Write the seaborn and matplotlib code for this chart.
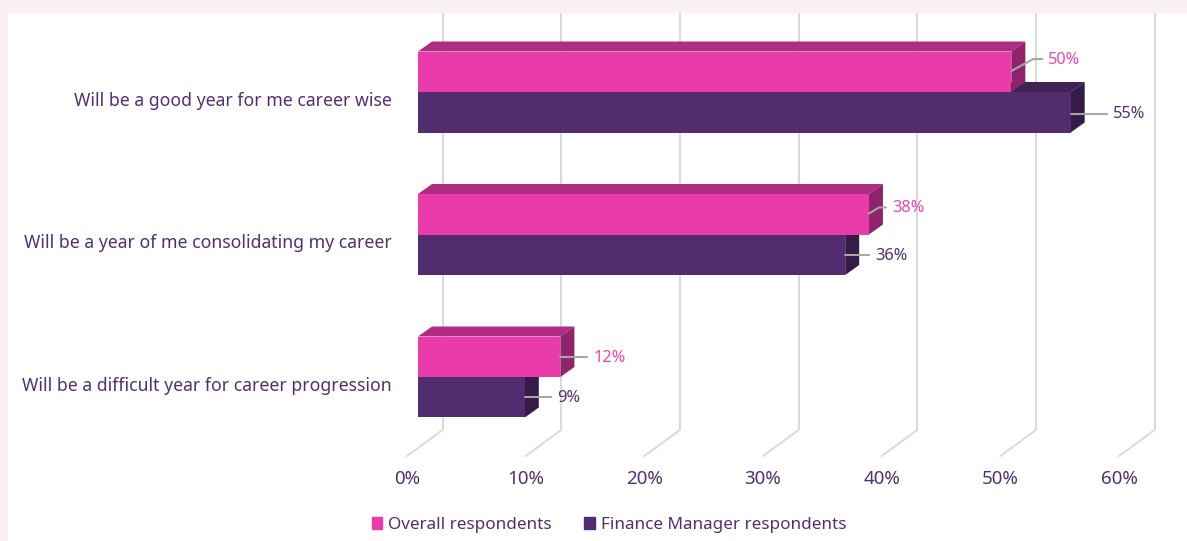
import matplotlib
matplotlib.use('Agg')
import matplotlib.pyplot as plt
import matplotlib.patches as mpatches
from matplotlib.transforms import ScaledTranslation
import pandas as pd
import seaborn as sns

# chart values
categories = ['Will be a good year for me career wise',
              'Will be a year of me consolidating my career',
              'Will be a difficult year for career progression']
overall = [50, 38, 12]
finance = [55, 36, 9]
series_names = ['Overall respondents', 'Finance Manager respondents']
x_ticks = [0, 10, 20, 30, 40, 50, 60]

# colours
PINK = '#EA3BAB'
PINK_TOP = '#AF2D82'
PINK_SIDE = '#90246C'
PINK_TEXT = '#EE45B2'
PURPLE = '#512C6E'
PURPLE_TOP = '#3E2354'
PURPLE_SIDE = '#341B48'
TEXT = '#52306F'
BAND = '#FAEFF4'
GRID = '#DADADA'
LEADER = '#A6A6A6'

W, H = 1187, 541
DPI = 100

# pixel layout of the plot box
X0, X60 = 418, 1130
TOP, BOTTOM = 13, 456
FIRST_ROW, ROW_STEP = 92, 142.5
DEPTH_X, DEPTH_Y = 14, 10
WALL_X, WALL_Y = 24.5, 26
FLOOR_X = 11

# leader lines per bar, pixels from the bar end: bend (dx, up) then end (dx, up)
overall_leaders = [((22, 12), (31, 12)), ((10, 6), (17, 6)), ((0, 0), (27, 0))]
finance_leaders = [((0, 0), (36, 0)), ((0, 0), (24, 0)), ((0, 0), (26, 0))]
leader_anchor_up = [[21, 21, 20], [19, 20, 20]]

sns.set_theme(style='white')
plt.rcParams['font.family'] = ['Noto Sans', 'DejaVu Sans']

df = pd.DataFrame({
    'category': categories * 2,
    'value': overall + finance,
    'series': [series_names[0]] * 3 + [series_names[1]] * 3,
})

fig = plt.figure(figsize=(W / DPI, H / DPI), dpi=DPI, facecolor='white')
fig.patches.append(mpatches.Rectangle((0, 1 - TOP / H), 1, TOP / H, transform=fig.transFigure,
                                      facecolor=BAND, edgecolor='none'))
fig.patches.append(mpatches.Rectangle((0, 0), 8 / W, 1, transform=fig.transFigure,
                                      facecolor=BAND, edgecolor='none'))

ax = fig.add_axes([X0 / W, 1 - BOTTOM / H, (X60 - X0) / W, (BOTTOM - TOP) / H])
ax.patch.set_alpha(0)

sns.barplot(data=df, y='category', x='value', hue='series', order=categories,
            hue_order=series_names, palette=[PINK, PURPLE], width=81 / ROW_STEP,
            gap=0, saturation=1, dodge=True, ax=ax, legend=False, zorder=3)

ax.set_xlim(0, 60)
ax.set_ylim((BOTTOM - FIRST_ROW) / ROW_STEP, (TOP - FIRST_ROW) / ROW_STEP)
ax.set_xlabel('')
ax.set_ylabel('')
sns.despine(ax=ax, left=True, bottom=True)

px_x = (X60 - X0) / 60
px_y = ROW_STEP


def shift(dx, up):
    return ax.transData + ScaledTranslation(dx / DPI, up / DPI, fig.dpi_scale_trans)


# wall and floor grid
wall_top = ax.get_ylim()[1]
wall_bottom = (BOTTOM - WALL_Y - FIRST_ROW) / ROW_STEP
for t in x_ticks:
    ax.plot([t, t], [wall_top, wall_bottom], color=GRID, lw=1.5, transform=shift(WALL_X, 0),
            zorder=1, clip_on=False, solid_capstyle='butt')
    ax.plot([t + (WALL_X + FLOOR_X) / px_x, t], [wall_bottom, ax.get_ylim()[0]], color=GRID, lw=1.4,
            transform=shift(-FLOOR_X, 0), zorder=1, clip_on=False, solid_capstyle='round')

# fake 3d faces, built from the bars seaborn drew
n = len(categories)
bars = list(ax.patches)[:2 * n]
dx = DEPTH_X / px_x
dy = DEPTH_Y / px_y
faces = [(bars[:n], PINK_TOP, PINK_SIDE, 4), (bars[n:], PURPLE_TOP, PURPLE_SIDE, 2)]
for group, top_c, side_c, z in faces:
    for b in group:
        x1 = b.get_x() + b.get_width()
        y0 = b.get_y()
        y1 = y0 + b.get_height()
        x_left = b.get_x()
        ax.add_patch(mpatches.Polygon([(x_left, y0), (x_left + dx, y0 - dy), (x1 + dx, y0 - dy), (x1, y0)],
                                      facecolor=top_c, edgecolor='none', zorder=z))
        ax.add_patch(mpatches.Polygon([(x1, y0), (x1 + dx, y0 - dy), (x1 + dx, y1 - dy), (x1, y1)],
                                      facecolor=side_c, edgecolor='none', zorder=z))
        b.set_zorder(z + 1)
        b.set_edgecolor('none')

# data labels with leader lines
label_sets = [(bars[:n], overall, overall_leaders, PINK_TEXT, leader_anchor_up[0]),
              (bars[n:], finance, finance_leaders, TEXT, leader_anchor_up[1])]
for group, values, leaders, colour, anchors in label_sets:
    for b, v, (bend, end), anchor in zip(group, values, leaders, anchors):
        x1 = b.get_x() + b.get_width()
        y1 = b.get_y() + b.get_height()
        ax.plot([x1, x1 + bend[0] / px_x, x1 + end[0] / px_x],
                [y1, y1 - bend[1] / px_y, y1 - end[1] / px_y],
                color=LEADER, lw=1.5, transform=shift(0, anchor), zorder=8, clip_on=False)
        ax.text(x1 + end[0] / px_x, y1 - end[1] / px_y, '%d%%' % v, color=colour, fontsize=11.8,
                va='center', ha='left', transform=shift(6, anchor - 1), zorder=9, clip_on=False)

# axis labels
ax.set_xticks(x_ticks)
ax.set_xticklabels(['%d%%' % t for t in x_ticks], color=TEXT, fontsize=13.5)
ax.tick_params(axis='x', length=0, pad=10)
ax.tick_params(axis='y', length=0, pad=19, labelsize=12.7, labelcolor=TEXT)
for lab in ax.get_xticklabels():
    lab.set_transform(lab.get_transform() + ScaledTranslation(-FLOOR_X / DPI, 0, fig.dpi_scale_trans))
for lab in ax.get_yticklabels():
    lab.set_transform(lab.get_transform() + ScaledTranslation(0, -7 / DPI, fig.dpi_scale_trans))

# legend
handles = [mpatches.Patch(color=PINK), mpatches.Patch(color=PURPLE)]
fig.legend(handles, series_names, loc='center', bbox_to_anchor=(609 / W, 1 - 525 / H), ncol=2,
           frameon=False, fontsize=12.3, labelcolor=TEXT, handlelength=0.62, handleheight=0.62,
           handletextpad=0.35, columnspacing=1.9, borderpad=0)

fig.savefig('out.png', dpi=DPI, facecolor=fig.get_facecolor())
